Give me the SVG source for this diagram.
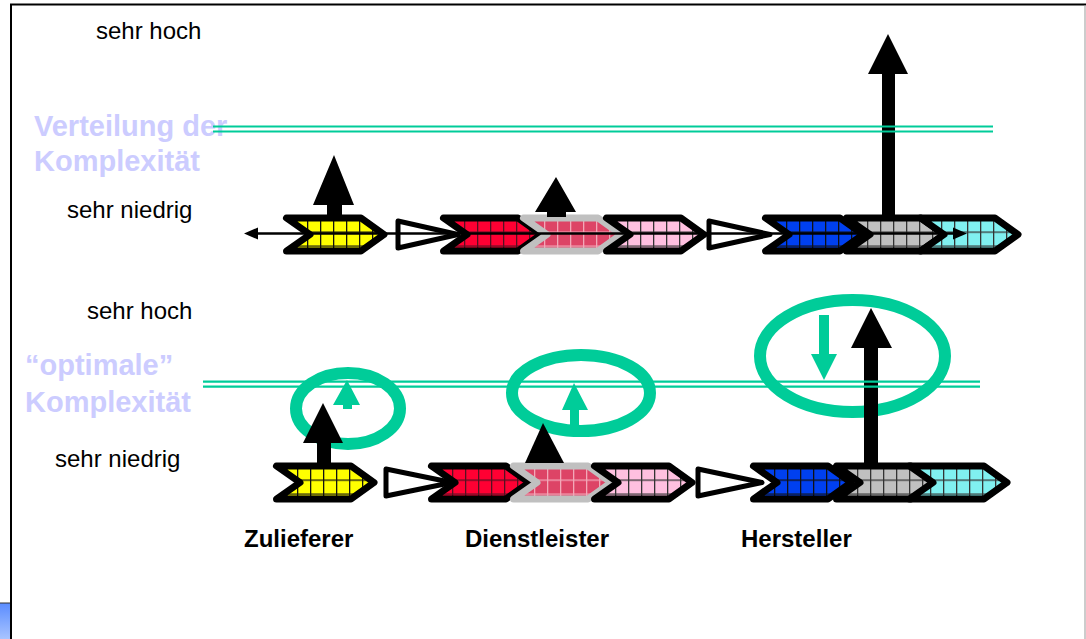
<svg xmlns="http://www.w3.org/2000/svg" width="1086" height="639" viewBox="0 0 1086 639">
<style>
.lbl{font-family:"Liberation Sans",Arial,sans-serif;font-size:24px;fill:#000}
.bl{font-family:"Liberation Sans",Arial,sans-serif;font-size:24px;font-weight:bold;fill:#000}
.lav{font-family:"Liberation Sans",Arial,sans-serif;font-size:29px;font-weight:bold;fill:#CCCCFF}
.chev{stroke:#000;stroke-width:7;stroke-linejoin:round}
.chevg{stroke:#C0C0C0;stroke-width:7;stroke-linejoin:round}
.tri{fill:#fff;stroke:#000;stroke-width:5;stroke-linejoin:round}
.ell{fill:none;stroke:#00CC99;stroke-width:12}
.dl{stroke:#00CC99;stroke-width:2.2}
.blk{fill:#000}
.grn{fill:#00CC99}
</style>
<defs>
<linearGradient id="bg" x1="0" y1="0" x2="0" y2="1"><stop offset="0" stop-color="#5A8CFF"/><stop offset="1" stop-color="#A8C4FF"/></linearGradient>
<pattern id="pY" patternUnits="userSpaceOnUse" x="11" y="-3" width="13" height="14"><rect width="13" height="14" fill="#FFFF00"/><path d="M0.6 0V14M0 0.6H13" stroke="#111" stroke-width="1.4"/></pattern>
<pattern id="pR" patternUnits="userSpaceOnUse" x="11" y="-3" width="13" height="14"><rect width="13" height="14" fill="#FF0033"/><path d="M0.6 0V14M0 0.6H13" stroke="#551122" stroke-width="1.4"/></pattern>
<pattern id="pD" patternUnits="userSpaceOnUse" x="11" y="-3" width="13" height="14"><rect width="13" height="14" fill="#DD4466"/><path d="M0.6 0V14M0 0.6H13" stroke="#F2A8B8" stroke-width="1.4"/></pattern>
<pattern id="pP" patternUnits="userSpaceOnUse" x="11" y="-3" width="13" height="14"><rect width="13" height="14" fill="#FFC0E0"/><path d="M0.6 0V14M0 0.6H13" stroke="#333" stroke-width="1.4"/></pattern>
<pattern id="pB" patternUnits="userSpaceOnUse" x="11" y="-3" width="13" height="14"><rect width="13" height="14" fill="#0040F0"/><path d="M0.6 0V14M0 0.6H13" stroke="#111" stroke-width="1.4"/></pattern>
<pattern id="pG" patternUnits="userSpaceOnUse" x="11" y="-3" width="13" height="14"><rect width="13" height="14" fill="#C0C0C0"/><path d="M0.6 0V14M0 0.6H13" stroke="#333" stroke-width="1.4"/></pattern>
<pattern id="pC" patternUnits="userSpaceOnUse" x="11" y="-3" width="13" height="14"><rect width="13" height="14" fill="#80F0F0"/><path d="M0.6 0V14M0 0.6H13" stroke="#333" stroke-width="1.4"/></pattern>
<polygon id="cv" points="3.5,-16.5 78,-16.5 101,0 78,16.5 3.5,16.5 27,0"/>
</defs>
<rect width="1086" height="639" fill="#fff"/>
<g id="frame">
<line x1="10" y1="4.5" x2="1086" y2="4.5" stroke="#000" stroke-width="2"/>
<line x1="11" y1="4" x2="11" y2="639" stroke="#000" stroke-width="2"/>
<line x1="1085" y1="5" x2="1085" y2="639" stroke="#999" stroke-width="1"/>
<rect x="0" y="603" width="10" height="36" fill="url(#bg)"/>
<line x1="0" y1="603" x2="10" y2="603" stroke="#333" stroke-width="1"/>
</g>
<g id="connectors">
<polygon class="tri" points="398,221 398,248 458,234.5"/>
<polygon class="tri" points="709,221 709,248 770,234.5"/>
<polygon class="tri" points="386,469 386,496 452,482.5"/>
<polygon class="tri" points="698,469 698,496 762,482.5"/>
</g>
<g id="row1">
<g id="c1-zulieferer" transform="translate(283,234.5)"><use href="#cv" class="chev" fill="url(#pY)"/></g>
<g id="c1-red" transform="translate(440,234.5)"><use href="#cv" class="chev" fill="url(#pR)"/></g>
<g id="c1-dienst" transform="translate(520,234.5)"><use href="#cv" class="chevg" fill="url(#pD)"/></g>
<g id="c1-pink" transform="translate(603,234.5)"><use href="#cv" class="chev" fill="url(#pP)"/></g>
<g id="c1-blue" transform="translate(762,234.5)"><use href="#cv" class="chev" fill="url(#pB)"/></g>
<g id="c1-hersteller" transform="translate(843,234.5)"><use href="#cv" class="chev" fill="url(#pG)"/></g>
<g id="c1-cyan" transform="translate(917,234.5)"><use href="#cv" class="chev" fill="url(#pC)"/></g>
</g>
<g id="row2">
<g id="c2-zulieferer" transform="translate(273,482.5)"><use href="#cv" class="chev" fill="url(#pY)"/></g>
<g id="c2-red" transform="translate(428,482.5)"><use href="#cv" class="chev" fill="url(#pR)"/></g>
<g id="c2-dienst" transform="translate(510,482.5)"><use href="#cv" class="chevg" fill="url(#pD)"/></g>
<g id="c2-pink" transform="translate(591,482.5)"><use href="#cv" class="chev" fill="url(#pP)"/></g>
<g id="c2-blue" transform="translate(750,482.5)"><use href="#cv" class="chev" fill="url(#pB)"/></g>
<g id="c2-hersteller" transform="translate(833,482.5)"><use href="#cv" class="chev" fill="url(#pG)"/></g>
<g id="c2-cyan" transform="translate(906,482.5)"><use href="#cv" class="chev" fill="url(#pC)"/></g>
</g>
<g id="flowline">
<line x1="254" y1="233.5" x2="956" y2="233.5" stroke="#000" stroke-width="2.5"/>
<polygon class="blk" points="244,233.5 258,227.5 258,239.5"/>
<polygon class="blk" points="967,233.5 953,227.5 953,239.5"/>
</g>
<g id="ellipses">
<ellipse class="ell" cx="348" cy="408.5" rx="52" ry="35.5"/>
<ellipse class="ell" cx="581" cy="393" rx="69" ry="38"/>
<ellipse class="ell" cx="852.5" cy="356" rx="92.5" ry="56"/>
</g>
<g id="green-arrows">
<polygon class="grn" points="347,380 360,405 352,405 352,409 343,409 343,405 333,405"/>
<polygon class="grn" points="574,383 588,410 579,410 579,429 570,429 570,410 562,410"/>
<polygon class="grn" points="819,315 829,315 829,354 837,354 824,380 811,354 819,354"/>
</g>
<g id="black-arrows">
<polygon class="blk" points="334,155 354,205 342,205 342,216 327,216 327,205 313,205"/>
<polygon class="blk" points="556,177 576,212 566,212 566,217 547,217 547,212 535,212"/>
<polygon class="blk" points="888,34 908,74 895,74 895,216 882,216 882,74 868,74"/>
<polygon class="blk" points="323,403 343,443 331,443 331,464 317,464 317,443 303,443"/>
<polygon class="blk" points="543,423 564,463 525,463"/>
<polygon class="blk" points="871,308 892,348 878,348 878,464 864,464 864,348 851,348"/>
</g>
<g id="labels">
<text class="lbl" x="96" y="39">sehr hoch</text>
<text class="lbl" x="67" y="218">sehr niedrig</text>
<text class="lbl" x="87" y="319">sehr hoch</text>
<text class="lbl" x="55" y="467">sehr niedrig</text>
<text class="lav" x="34" y="136">Verteilung der</text>
<text class="lav" x="34" y="171">Komplexität</text>
<text class="lav" x="25" y="375">“optimale”</text>
<text class="lav" x="25" y="412">Komplexität</text>
<text class="bl" x="244" y="547">Zulieferer</text>
<text class="bl" x="465" y="547">Dienstleister</text>
<text class="bl" x="741" y="547">Hersteller</text>
</g>
<g id="levels">
<line class="dl" x1="213" y1="126.5" x2="993" y2="126.5"/>
<line class="dl" x1="213" y1="131.5" x2="993" y2="131.5"/>
<line class="dl" x1="203" y1="381.7" x2="980" y2="381.7"/>
<line class="dl" x1="203" y1="386.7" x2="980" y2="386.7"/>
</g>
</svg>
